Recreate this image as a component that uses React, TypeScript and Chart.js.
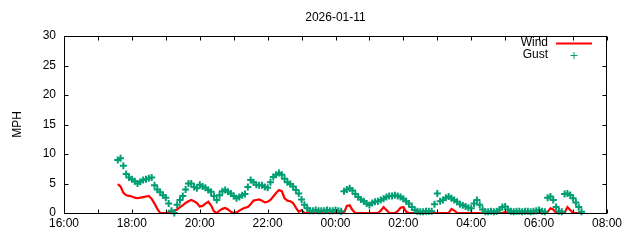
import React, { useEffect, useRef } from "react";
import { Chart, registerables } from "chart.js";

Chart.register(...registerables);

const TITLE = "2026-01-11";
const Y_TITLE = "MPH";
const X_TICK_LABELS = ["16:00", "18:00", "20:00", "22:00", "00:00", "02:00", "04:00", "06:00", "08:00"];
const Y_MIN = 0;
const Y_MAX = 30;
const Y_STEP = 5;
const X_MAX_MIN = 960; // minutes from 16:00 to 08:00
const START_MIN = 95; // first sample 17:35, minutes after 16:00
const STEP_MIN = 5; // sample interval in minutes

const WIND = [
  4.9, 4.5, 3.4, 3.0, 2.9, 2.8, 2.6, 2.5, 2.6, 2.7, 2.8, 2.9, 2.4, 1.6, 0.7,
  0, 0, 0, 0.1, 0.2, 0.4, 0.6, 1.0, 1.3, 1.7, 2.0, 2.2, 2.0, 1.7, 1.1,
  1.2, 1.6, 1.9, 1.3, 0.3, 0, 0.4, 0.7, 0.85, 0.6, 0.2, 0, 0.1, 0.4, 0.7,
  0.9, 1.0, 1.5, 2.1, 2.2, 2.3, 2.1, 1.8, 1.9, 2.2, 2.8, 3.4, 3.9, 3.7, 2.5,
  2.1, 2.0, 1.7, 0.9, 0.2, 0.5, 0,
  0, 0, 0, 0, 0, 0, 0, 0, 0, 0, 0, 0, 0, 0,
  1.2, 1.3, 0.5, 0,
  0, 0, 0, 0, 0, 0, 0, 0,
  0.4, 1.0, 0.5, 0,
  0, 0,
  0.3, 0.9, 1.0, 0.2,
  0, 0, 0, 0, 0, 0, 0, 0, 0, 0, 0, 0, 0, 0, 0,
  0.7, 0.4,
  0, 0, 0, 0, 0, 0, 0, 0, 0, 0, 0, 0, 0, 0, 0, 0, 0,
  0.2,
  0, 0, 0, 0, 0, 0, 0, 0, 0, 0, 0, 0, 0, 0,
  0.2, 0.8, 0.6,
  0, 0, 0, 0,
  1.0, 0.5,
  0, 0, 0,
  0,
];

const GUST = [
  9.0, 9.3, 8.0, 6.6, 6.0, 5.7, 5.4, 5.0, 5.3, 5.6, 5.7, 5.9, 6.0, 4.7, 4.0,
  3.5, 3.0, 2.6, 1.6, 0.4, 0, 1.4, 2.2, 2.9, 4.0, 5.0, 5.0, 4.4, 4.2, 4.8,
  4.5, 4.3, 3.9, 3.6, 2.9, 2.2, 3.0, 3.7, 3.9, 3.6, 3.3, 2.9, 2.5, 2.7, 3.0,
  3.2, 4.4, 5.6, 5.2, 4.8, 4.7, 4.7, 4.4, 4.3, 5.2, 6.1, 6.5, 6.8, 6.5, 5.8,
  5.2, 4.9, 4.5, 3.9, 3.3, 2.3, 1.4, 0.8, 0.4, 0.4, 0.5, 0.4, 0.4, 0.4, 0.5, 0.4,
  0.4, 0.5, 0.4, 0.3, 3.7, 4.0, 4.2, 3.8, 3.2, 2.7, 2.3, 2.0, 1.6, 1.35, 1.7,
  1.9, 2.0, 2.2, 2.4, 2.7, 2.9, 2.9, 3.0, 2.9, 2.7, 2.4, 2.0, 1.6, 1.0, 0.5,
  0.3, 0.2, 0.2, 0.3, 0.3, 0.3, 1.5, 3.3, 2.0, 2.2, 2.6, 2.8, 2.5, 2.2, 1.9,
  1.5, 1.3, 1.1, 0.9, 0.8, 1.6, 2.2, 1.4, 0.6, 0.2, 0.2, 0.3, 0.2, 0.3, 0.6,
  1.0, 1.1, 0.6, 0.3, 0.2, 0.3, 0.3, 0.2, 0.3, 0.3, 0.2, 0.3, 0.4, 0.5, 0.3,
  0.2, 2.6, 2.8, 2.2, 1.0, 0.3, 0.2, 3.2, 3.3, 3.05, 2.5, 1.8, 1.0,
  0.2,
];

const WIND_COLOR = "#ff0000";
const GUST_COLOR = "#009e73";
const FONT = "'Liberation Sans', Arial, Helvetica, sans-serif";

const frameAndText = {
  id: "gnuplotFrame",
  afterDraw(chart: any) {
    const { ctx, chartArea, scales } = chart;
    const { left, right, top, bottom } = chartArea;
    const xs = scales.x;
    const ys = scales.y;
    ctx.save();
    ctx.strokeStyle = "#000";
    ctx.lineWidth = 1;
    ctx.beginPath();
    const L = left + 0.5;
    const R = right - 0.5;
    const T = top + 0.5;
    const B = bottom + 0.5;
    for (let m = 0; m <= X_MAX_MIN; m += 60) {
      const px = Math.round(xs.getPixelForValue(m)) + 0.5;
      ctx.moveTo(px, B);
      ctx.lineTo(px, B - 4);
      ctx.moveTo(px, T);
      ctx.lineTo(px, T + 4);
    }
    for (let v = Y_MIN; v <= Y_MAX; v += Y_STEP) {
      const py = Math.round(ys.getPixelForValue(v)) + 0.5;
      ctx.moveTo(L, py);
      ctx.lineTo(L + 4, py);
      ctx.moveTo(R, py);
      ctx.lineTo(R - 4, py);
    }
    ctx.stroke();
    ctx.strokeRect(L, T, R - L, B - T);

    ctx.fillStyle = "#000";
    ctx.font = `12px ${FONT}`;
    ctx.textAlign = "center";
    ctx.textBaseline = "alphabetic";
    ctx.fillText(TITLE, (left + right) / 2, 21);

    ctx.save();
    ctx.translate(18, (top + bottom) / 2);
    ctx.rotate(-Math.PI / 2);
    ctx.textBaseline = "middle";
    ctx.fillText(Y_TITLE, 0, 0);
    ctx.restore();

    ctx.textAlign = "right";
    ctx.fillText(chart.data.datasets[1].label, 548, 46);
    ctx.fillText(chart.data.datasets[0].label, 548, 58);
    ctx.strokeStyle = WIND_COLOR;
    ctx.lineWidth = 2;
    ctx.beginPath();
    ctx.moveTo(556, 43.5);
    ctx.lineTo(592, 43.5);
    ctx.stroke();
    ctx.strokeStyle = GUST_COLOR;
    ctx.lineWidth = 1;
    ctx.beginPath();
    ctx.moveTo(570.5, 55.5);
    ctx.lineTo(577.5, 55.5);
    ctx.moveTo(574, 52);
    ctx.lineTo(574, 59);
    ctx.stroke();
    ctx.restore();
  },
};

export default function App() {
  const ref = useRef<HTMLCanvasElement | null>(null);
  useEffect(() => {
    document.body.style.margin = "0";
    const canvas = ref.current;
    if (!canvas) return;
    const windPts = WIND.map((v, i) => ({ x: START_MIN + i * STEP_MIN, y: v }));
    const gustPts = GUST.map((v, i) => ({ x: START_MIN + i * STEP_MIN, y: v }));
    const chart = new Chart(canvas, {
      type: "line",
      data: {
        datasets: [
          {
            label: "Gust",
            data: gustPts,
            showLine: false,
            pointStyle: "cross",
            pointRadius: 3.5,
            pointBorderWidth: 2,
            borderColor: GUST_COLOR,
            backgroundColor: GUST_COLOR,
            pointBorderColor: GUST_COLOR,
            clip: false as any,
            order: 0,
          },
          {
            label: "Wind",
            data: windPts,
            borderColor: WIND_COLOR,
            backgroundColor: WIND_COLOR,
            borderWidth: 2.2,
            pointRadius: 0,
            tension: 0,
            fill: false,
            clip: false as any,
            order: 1,
          },
        ],
      },
      options: {
        responsive: false,
        animation: false,
        devicePixelRatio: 1,
        layout: { padding: { top: 36, right: 33, left: 0, bottom: 0 } },
        plugins: {
          legend: { display: false },
          title: { display: false },
          tooltip: { enabled: false },
        },
        scales: {
          x: {
            type: "linear",
            min: 0,
            max: X_MAX_MIN,
            grid: { display: false, drawTicks: false },
            border: { display: false },
            ticks: {
              stepSize: 120,
              autoSkip: false,
              maxRotation: 0,
              padding: 3,
              color: "#000",
              font: { family: FONT, size: 12 },
              callback: (v: any) => X_TICK_LABELS[Math.round(Number(v) / 120)] ?? "",
            },
            afterFit: (s: any) => {
              s.height = 27;
            },
          },
          y: {
            min: Y_MIN,
            max: Y_MAX,
            grid: { display: false, drawTicks: false },
            border: { display: false },
            ticks: {
              stepSize: Y_STEP,
              padding: 8,
              color: "#000",
              font: { family: FONT, size: 12 },
            },
            afterFit: (s: any) => {
              s.width = 64;
            },
          },
        },
      },
      plugins: [frameAndText],
    });
    return () => chart.destroy();
  }, []);
  return (
    <div style={{ width: 640, height: 240 }}>
      <canvas ref={ref} width={640} height={240} style={{ display: "block" }} />
    </div>
  );
}
